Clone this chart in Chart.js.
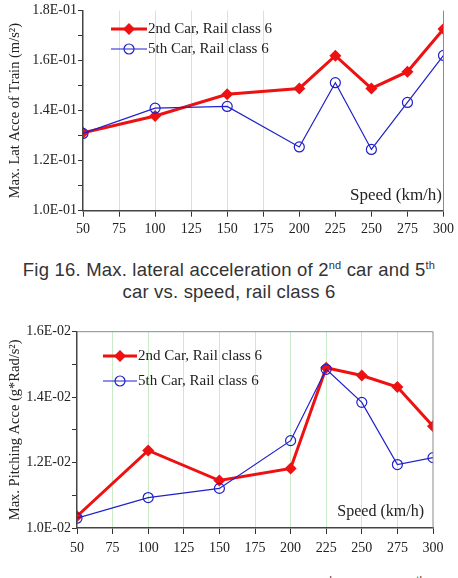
<!DOCTYPE html>
<html>
<head>
<meta charset="utf-8">
<script src="https://cdn.jsdelivr.net/npm/chart.js@4.4.0/dist/chart.umd.min.js"></script>
<style>
    body { margin: 0; width: 458px; height: 578px; overflow: hidden; background: #fff; position: relative; }
    .box { position: absolute; left: 0; width: 458px; height: 240px; }
    #latBox { top: 0; }
    #pitchBox { top: 320px; }
    .cap { position: absolute; left: 0; width: 458px; text-align: center; font-family: "Liberation Sans", sans-serif; font-size: 18.5px; letter-spacing: 0.2px; color: #333; line-height: 22px; }
    .cap sup { font-size: 11px; line-height: 0; vertical-align: 7px; }
    .cap.last { left: -16px; }
    .cap.last sup { vertical-align: 9px; }
</style>
</head>
<body>
<div class="box" id="latBox"><canvas id="latChart"></canvas></div>
<div class="cap" style="top:259px;">Fig 16. Max. lateral acceleration of 2<sup>nd</sup> car and 5<sup>th</sup><br>car vs. speed, rail class 6</div>
<div class="box" id="pitchBox"><canvas id="pitchChart"></canvas></div>
<div class="cap last" style="top:576px;">Fig 17. Max. pitching acceleration of 2<sup>nd</sup> car and 5<sup>th</sup></div>
<script>
const speeds = [50, 100, 150, 200, 225, 250, 275, 300];
const seriesNames = ['2nd Car, Rail class 6', '5th Car, Rail class 6'];

// Fig 16 - lateral acceleration (m/s^2)
const latCar2 = [0.1312, 0.1379, 0.1466, 0.1489, 0.1620, 0.1489, 0.1556, 0.1727];
const latCar5 = [0.1309, 0.1410, 0.1417, 0.1255, 0.1512, 0.1245, 0.1433, 0.1621];

// Fig 17 - pitching acceleration (g*Rad/s^2)
const pitchCar2 = [0.01036, 0.01237, 0.01145, 0.01182, 0.01490, 0.01466, 0.01431, 0.01311];
const pitchCar5 = [0.01030, 0.01093, 0.01121, 0.01267, 0.01485, 0.01384, 0.01194, 0.01215];

const speedTicks = [50, 75, 100, 125, 150, 175, 200, 225, 250, 275, 300];

const RED = '#ee1111';
const BLUE = '#2020cc';
const GREEN = '#c9ebc9';
const serif = "'Liberation Serif', 'Times New Roman', serif";

const sciLabel = v => {
    const [m, e] = v.toExponential(1).toUpperCase().split('E');
    const sign = e[0];
    const digits = e.slice(1).padStart(2, '0');
    return m + 'E' + sign + digits;
};

const toPoints = ys => ys.map((y, i) => ({ x: speeds[i], y: y }));

function drawMarker(ctx, kind, x, y) {
    ctx.beginPath();
    if (kind === 'diamond') {
        ctx.fillStyle = RED;
        ctx.moveTo(x, y - 6);
        ctx.lineTo(x + 6, y);
        ctx.lineTo(x, y + 6);
        ctx.lineTo(x - 6, y);
        ctx.closePath();
        ctx.fill();
    } else {
        ctx.strokeStyle = BLUE;
        ctx.lineWidth = 1.2;
        ctx.arc(x, y, 5, 0, Math.PI * 2);
        ctx.stroke();
    }
}

// legend, "Speed (km/h)" label and the grey frame lines
const decorPlugin = {
    id: 'decor',
    afterDraw(chart, args, o) {
        const ctx = chart.ctx;
        const area = chart.chartArea;
        ctx.save();
        ctx.strokeStyle = '#8a8a8a';
        ctx.lineWidth = 1;
        ctx.beginPath();
        ctx.moveTo(area.right, area.bottom);
        ctx.lineTo(area.right, area.top);
        if (o.topLine) ctx.lineTo(area.left, area.top);
        ctx.stroke();

        o.legend.forEach((row, i) => {
            ctx.beginPath();
            ctx.strokeStyle = i === 0 ? RED : BLUE;
            ctx.lineWidth = i === 0 ? 3 : 1.2;
            ctx.moveTo(row.x0, row.y);
            ctx.lineTo(row.x1, row.y);
            ctx.stroke();
            drawMarker(ctx, i === 0 ? 'diamond' : 'circle', (row.x0 + row.x1) / 2, row.y);
            ctx.fillStyle = '#222';
            ctx.font = o.legendFont + 'px ' + serif;
            ctx.textBaseline = 'middle';
            ctx.textAlign = 'left';
            ctx.fillText(seriesNames[i], row.x1 + 1, row.y);
        });

        ctx.fillStyle = '#222';
        ctx.font = o.speedFont + 'px ' + serif;
        ctx.textAlign = 'right';
        ctx.textBaseline = 'middle';
        ctx.fillText('Speed (km/h)', o.speedX, o.speedY);
        ctx.restore();
    }
};

function makeChart(id, cfg) {
    return new Chart(document.getElementById(id).getContext('2d'), {
        type: 'line',
        data: {
            datasets: [{
                label: seriesNames[0],
                data: toPoints(cfg.car2),
                borderColor: RED,
                backgroundColor: RED,
                borderWidth: 3,
                pointStyle: 'rectRot',
                pointRadius: 6,
                pointBorderWidth: 0,
                order: 1
            }, {
                label: seriesNames[1],
                data: toPoints(cfg.car5),
                borderColor: BLUE,
                backgroundColor: 'transparent',
                borderWidth: 1.2,
                pointStyle: 'circle',
                pointRadius: 5,
                pointBorderWidth: 1.2,
                order: 0
            }]
        },
        options: {
            responsive: true,
            maintainAspectRatio: false,
            animation: false,
            layout: { padding: { top: cfg.padTop, right: cfg.padRight, left: 0, bottom: 0 } },
            plugins: {
                legend: { display: false },
                tooltip: { enabled: false },
                decor: cfg.decor
            },
            scales: {
                x: {
                    type: 'linear',
                    min: 50,
                    max: 300,
                    afterBuildTicks: scale => { scale.ticks = speedTicks.map(v => ({ value: v })); },
                    afterFit: scale => { scale.height = cfg.xHeight; },
                    border: { color: '#444', width: 1.5 },
                    grid: {
                        color: c => cfg.gridOn(c.tick.value) ? GREEN : 'transparent',
                        tickColor: '#333',
                        tickLength: 6,
                        lineWidth: 1
                    },
                    ticks: {
                        padding: cfg.xPad,
                        color: '#222',
                        font: { family: serif, size: 14 }
                    }
                },
                y: {
                    min: cfg.yMin,
                    max: cfg.yMax,
                    afterBuildTicks: scale => { scale.ticks = cfg.yTicks.map(v => ({ value: v })); },
                    afterFit: scale => { scale.width = cfg.yWidth; },
                    border: { color: '#444', width: 1.5 },
                    grid: { drawOnChartArea: false, tickColor: '#333', tickLength: 5 },
                    ticks: {
                        padding: 1,
                        color: '#222',
                        font: { family: serif, size: 14 },
                        callback: (v, i) => i % 2 === 0 ? sciLabel(v) : ''
                    },
                    title: {
                        display: true,
                        text: cfg.yTitle,
                        color: '#222',
                        padding: { top: 6, bottom: 0 },
                        font: { family: serif, size: 14.5 }
                    }
                }
            }
        },
        plugins: [decorPlugin]
    });
}

makeChart('latChart', {
    car2: latCar2,
    car5: latCar5,
    yMin: 0.10,
    yMax: 0.18,
    yTicks: [0.10, 0.11, 0.12, 0.13, 0.14, 0.15, 0.16, 0.17, 0.18],
    yTitle: 'Max. Lat Acce of Train (m/s²)',
    padTop: 10.7,
    padRight: 13,
    yWidth: 83,
    xHeight: 29.3,
    xPad: 4,
    gridOn: v => v > 50 && v < 200,
    decor: {
        topLine: false,
        legend: [{ x0: 111, x1: 147, y: 29 }, { x0: 111, x1: 147, y: 49 }],
        legendFont: 15,
        speedFont: 17,
        speedX: 442,
        speedY: 196
    }
});

makeChart('pitchChart', {
    car2: pitchCar2,
    car5: pitchCar5,
    yMin: 0.010,
    yMax: 0.016,
    yTicks: [0.010, 0.011, 0.012, 0.013, 0.014, 0.015, 0.016],
    yTitle: 'Max. Pitching Acce (g*Rad/s²)',
    padTop: 11.7,
    padRight: 25,
    yWidth: 77,
    xHeight: 32,
    xPad: 6,
    gridOn: v => v > 50 && v < 300,
    decor: {
        topLine: true,
        legend: [{ x0: 103, x1: 137, y: 36 }, { x0: 103, x1: 137, y: 61 }],
        legendFont: 15,
        speedFont: 16,
        speedX: 424,
        speedY: 192
    }
});
</script>
</body>
</html>
